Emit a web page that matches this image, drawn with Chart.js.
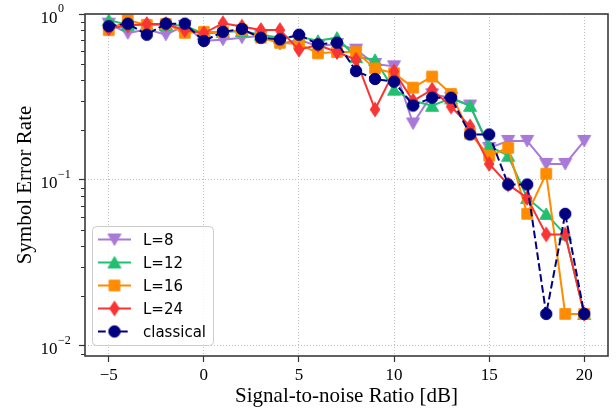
<!DOCTYPE html>
<html><head><meta charset="utf-8">
<script src="https://cdn.jsdelivr.net/npm/chart.js@4.4.1/dist/chart.umd.min.js"></script>
<style>html,body{margin:0;padding:0;background:#fff}#wrap{width:616px;height:410px;position:relative}</style>
</head><body><div id="wrap"><canvas id="c" width="616" height="410"></canvas></div>
<script>
// ---- data ----
const snr = [-5,-4,-3,-2,-1,0,1,2,3,4,5,6,7,8,9,10,11,12,13,14,15,16,17,18,19,20];
const serL8 = [0.875,0.766,0.81,0.75,0.85,0.69,0.70,0.72,0.74,0.66,0.70,0.64,0.66,0.61,0.50,0.484,0.219,0.328,0.313,0.281,0.156,0.172,0.172,0.125,0.125,0.172];
const serL12 = [0.92,0.86,0.86,0.86,0.85,0.76,0.78,0.79,0.75,0.72,0.73,0.69,0.72,0.55,0.53,0.35,0.30,0.28,0.31,0.28,0.16,0.14,0.078,0.0625,0.047,0.0156];
const serL16 = [0.80,0.92,0.86,0.87,0.77,0.78,0.78,0.80,0.72,0.67,0.66,0.58,0.59,0.59,0.47,0.44,0.36,0.42,0.33,0.19,0.14,0.156,0.0625,0.109,0.0156,0.0156];
const serL24 = [0.82,0.85,0.87,0.87,0.80,0.765,0.88,0.84,0.80,0.80,0.61,0.65,0.59,0.53,0.266,0.45,0.30,0.35,0.277,0.21,0.125,0.094,0.078,0.047,0.047,0.0156];
const serClassical = [0.844,0.875,0.75,0.875,0.875,0.688,0.781,0.813,0.719,0.703,0.75,0.656,0.672,0.453,0.406,0.391,0.281,0.313,0.313,0.188,0.188,0.094,0.094,0.0156,0.0625,0.0156];
const seriesLabels = ['L=8','L=12','L=16','L=24','classical'];
const xTickValues = [-5,0,5,10,15,20];
const yTickValues = [1,0.1,0.01];
const yTickExps = ['0','\u22121','\u22122'];

const colors = ['#a87ad8','#20c070','#ff8c00','#f83434','#000080'];
const markerKinds = ['tri_down','tri_up','square','diamond','circle'];

function makeMarker(kind,color){
  const s=20, c=document.createElement('canvas'); c.width=s; c.height=s;
  const g=c.getContext('2d'); g.fillStyle=color; g.strokeStyle=color; g.lineWidth=1; g.lineJoin='miter';
  const m=s/2; g.beginPath();
  if(kind==='circle'){ g.arc(m,m,5.7,0,Math.PI*2); }
  else if(kind==='tri_down'){ g.moveTo(m-6.5,m-5.5); g.lineTo(m+6.5,m-5.5); g.lineTo(m,m+6); g.closePath(); }
  else if(kind==='tri_up'){ g.moveTo(m-6.5,m+5.5); g.lineTo(m+6.5,m+5.5); g.lineTo(m,m-6); g.closePath(); }
  else if(kind==='square'){ g.rect(m-5.3,m-5.3,10.6,10.6); }
  else if(kind==='diamond'){ g.moveTo(m,m-7.3); g.lineTo(m+4.8,m); g.lineTo(m,m+7.3); g.lineTo(m-4.8,m); g.closePath(); }
  g.fill(); g.stroke(); return c;
}
const markers = markerKinds.map((k,i)=>makeMarker(k,colors[i]));
const allSeries = [serL8,serL12,serL16,serL24,serClassical];
const dash = [7.7,3.3];

const datasets = allSeries.map((vals,i)=>({
  label: seriesLabels[i],
  data: snr.map((x,j)=>({x:x,y:vals[j]})),
  borderColor: colors[i], backgroundColor: colors[i],
  borderWidth: 2, borderDash: i===4?dash:[],
  pointStyle: markers[i], pointRadius: 6, pointHoverRadius: 6,
  tension: 0, order: 5-i, fill:false
}));

const SERIF = '"Liberation Serif","Times New Roman",serif';

const deco = {
  id:'deco',
  afterDraw(chart){
    const ctx=chart.ctx, a=chart.chartArea, ys=chart.scales.y;
    ctx.save();
    // minor ticks on y
    ctx.strokeStyle='#333'; ctx.lineWidth=1;
    for(const d of [0.001,0.01,0.1]){
      for(let k=2;k<=9;k++){
        const v=k*d; if(v<ys.min||v>ys.max) continue;
        const py=Math.round(ys.getPixelForValue(v))+0.5;
        ctx.beginPath(); ctx.moveTo(a.left-4,py); ctx.lineTo(a.left,py); ctx.stroke();
      }
    }
    // frame
    ctx.strokeStyle='#3a3a3a'; ctx.lineWidth=1.6;
    ctx.strokeRect(a.left,a.top,a.right-a.left,a.bottom-a.top);
    // y tick labels 10^n
    ctx.fillStyle='#000'; ctx.textBaseline='alphabetic';
    yTickValues.forEach((v,i)=>{
      const py=ys.getPixelForValue(v);
      ctx.font='17px '+SERIF; ctx.textAlign='left';
      ctx.fillText('10',40.5,py+8.5);
      const w=ctx.measureText('10').width;
      ctx.font='12px '+SERIF;
      ctx.fillText(yTickExps[i],40.5+w+0.5,py-2);
    });
    // axis titles
    ctx.font='21px '+SERIF; ctx.textAlign='center';
    ctx.fillText('Signal-to-noise Ratio [dB]',(a.left+a.right)/2,402);
    ctx.save(); ctx.translate(30.5,(a.top+a.bottom)/2); ctx.rotate(-Math.PI/2);
    ctx.fillText('Symbol Error Rate',0,0); ctx.restore();
    // legend
    const bx=92.5, by=226.5, bw=121, bh=119, r=4;
    ctx.beginPath();
    ctx.moveTo(bx+r,by); ctx.lineTo(bx+bw-r,by); ctx.quadraticCurveTo(bx+bw,by,bx+bw,by+r);
    ctx.lineTo(bx+bw,by+bh-r); ctx.quadraticCurveTo(bx+bw,by+bh,bx+bw-r,by+bh);
    ctx.lineTo(bx+r,by+bh); ctx.quadraticCurveTo(bx,by+bh,bx,by+bh-r);
    ctx.lineTo(bx,by+r); ctx.quadraticCurveTo(bx,by,bx+r,by); ctx.closePath();
    ctx.fillStyle='rgba(255,255,255,0.8)'; ctx.fill();
    ctx.strokeStyle='#cccccc'; ctx.lineWidth=1; ctx.stroke();
    ctx.font='15px "DejaVu Sans",sans-serif'; ctx.textAlign='left';
    seriesLabels.forEach((lab,i)=>{
      const cy=239.5+i*23;
      ctx.strokeStyle=colors[i]; ctx.lineWidth=2; ctx.setLineDash(i===4?dash:[]);
      ctx.beginPath(); ctx.moveTo(98,cy); ctx.lineTo(131,cy); ctx.stroke();
      ctx.setLineDash([]);
      const mk=markers[i]; ctx.drawImage(mk,114.5-mk.width/2,cy-mk.height/2);
      ctx.fillStyle='#000'; ctx.fillText(lab,143,cy+5.5);
    });
    ctx.restore();
  }
};

const gridCommon = {color:'#bdbdbd', lineWidth:1, drawTicks:true, tickLength:6, tickColor:'#333', tickWidth:1.2};

new Chart(document.getElementById('c'),{
  type:'line',
  data:{datasets},
  options:{
    responsive:false, animation:false, events:[],
    layout:{padding:{left:0,top:14,right:8,bottom:0}},
    plugins:{legend:{display:false},tooltip:{enabled:false}},
    scales:{
      x:{type:'linear',min:-6.25,max:21.25,
        afterBuildTicks:s=>{s.ticks=xTickValues.map(v=>({value:v}));},
        afterFit:s=>{s.height=54;},
        grid:gridCommon, border:{display:false,dash:[1,2]},
        ticks:{font:{family:SERIF,size:17},color:'#000',padding:3,maxRotation:0,autoSkip:false,
          callback:v=>String(v).replace('-','\u2212')}},
      y:{type:'logarithmic',min:0.0087,max:1,
        afterBuildTicks:s=>{s.ticks=yTickValues.map(v=>({value:v}));},
        afterFit:s=>{s.width=85;},
        grid:gridCommon, border:{display:false,dash:[1,2]},
        ticks:{display:false}}
    }
  },
  plugins:[deco]
});
</script></body></html>
